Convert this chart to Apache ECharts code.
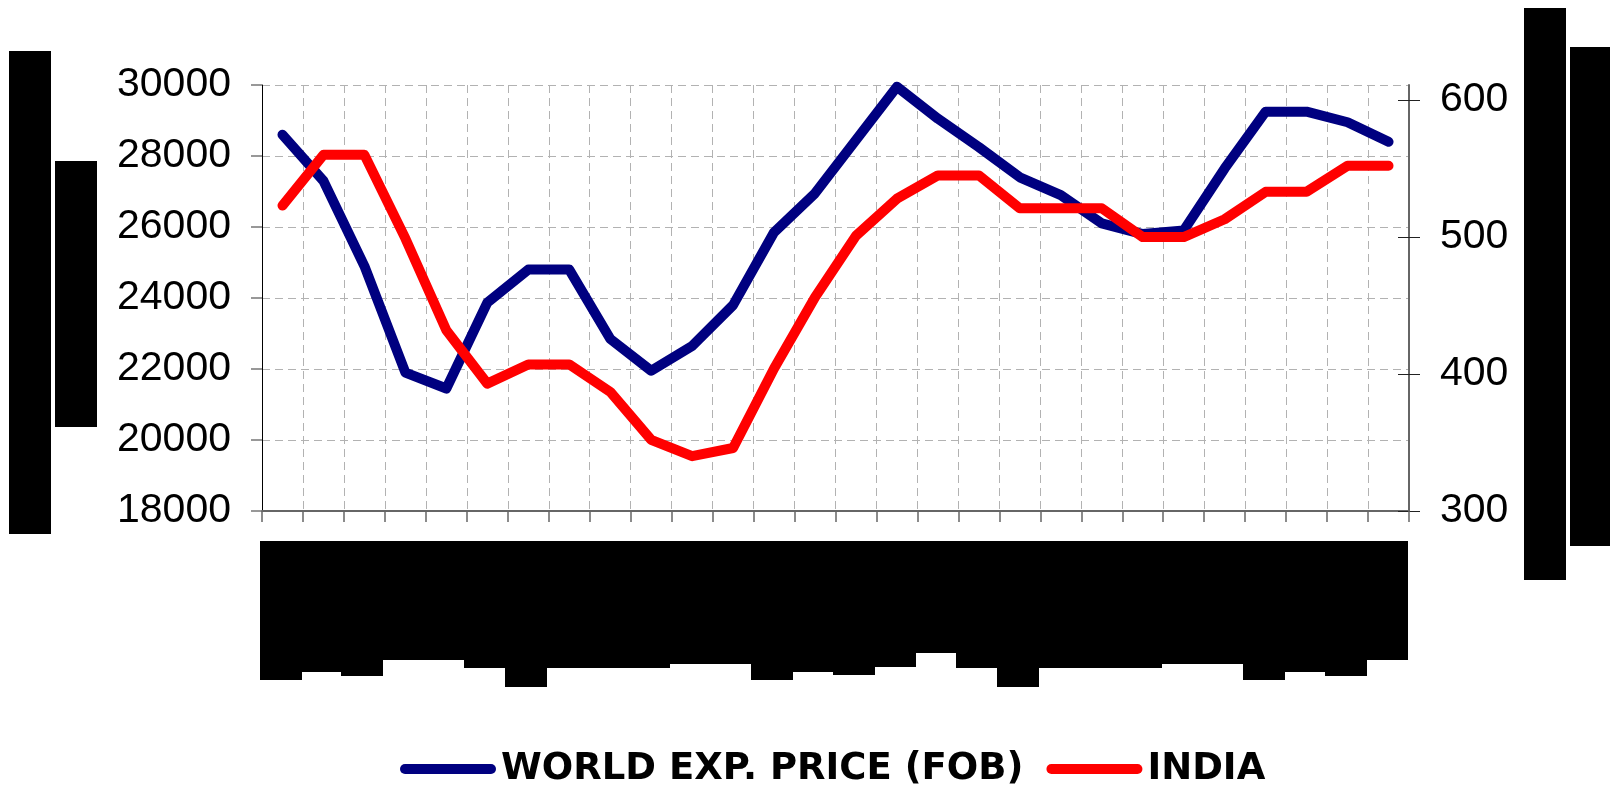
<!DOCTYPE html>
<html>
<head>
<meta charset="utf-8">
<script src="https://cdn.jsdelivr.net/npm/echarts@6/dist/echarts.min.js"></script>
<style>
  html, body { margin: 0; padding: 0; background: #ffffff; }
  #chart { width: 1610px; height: 786px; }
</style>
</head>
<body>
<div id="chart"></div>
<script>
// Monthly periods (28 points)
const periods = ['1','2','3','4','5','6','7','8','9','10','11','12','13','14',
                 '15','16','17','18','19','20','21','22','23','24','25','26','27','28'];

// World export price (FOB), left axis
const worldPrice = [28600, 27300, 24900, 21900, 21450, 23870, 24800, 24800, 22850, 21950,
                    22650, 23800, 25850, 26950, 28450, 29950, 29050, 28250, 27400, 26900,
                    26100, 25800, 25900, 27650, 29250, 29250, 28950, 28400];

// India, right axis
const indiaPrice = [523, 560, 560, 499, 432, 393, 407, 407, 387, 352,
                    340, 346, 404, 456, 501, 528, 545, 545, 521, 521,
                    521, 500, 500, 513, 533, 533, 552, 552];

// Axis tick labels
const leftTicks = [18000, 20000, 22000, 24000, 26000, 28000, 30000];
const rightTicks = [300, 400, 500, 600];

const seriesNames = ['WORLD EXP. PRICE (FOB)', 'INDIA'];

// Solid black panels standing in for the axis titles and period labels
const labelPanelBottoms = [680, 672, 676, 660, 660, 668, 687, 668, 668, 668, 664, 664, 680, 672,
                           675, 667, 653, 668, 687, 668, 668, 668, 664, 664, 680, 672, 676, 660];
const titlePanels = [
  { x: 9, y: 51, w: 42, h: 483 },
  { x: 55, y: 161, w: 42, h: 266 },
  { x: 1524, y: 8, w: 42, h: 572 },
  { x: 1570, y: 47, w: 40, h: 499 }
];

const pill = 'path://M5,0 L91,0 A5,5 0 0 1 91,10 L5,10 A5,5 0 0 1 5,0 Z';
const gridDash = { type: [8, 5], color: '#b2b2b2', width: 1 };
const numFont = { fontFamily: 'Liberation Sans, Arial, sans-serif', fontSize: 41, color: '#000' };
const plainNumber = function (v) { return String(v); };

const chart = echarts.init(document.getElementById('chart'), null, { renderer: 'canvas' });

chart.setOption({
  animation: false,
  backgroundColor: '#ffffff',
  grid: { left: 262, right: 201, top: 85, bottom: 275, containLabel: false },
  legend: {
    left: 400,
    top: 749,
    padding: 0,
    itemWidth: 96,
    itemHeight: 10,
    itemGap: 23,
    textStyle: {
      fontFamily: 'DejaVu Sans, sans-serif',
      fontWeight: 'bold',
      fontSize: 37,
      lineHeight: 40,
      color: '#000'
    },
    data: [
      { name: seriesNames[0], icon: pill, itemStyle: { color: '#000080' } },
      { name: seriesNames[1], icon: pill, itemStyle: { color: '#ff0000' } }
    ]
  },
  xAxis: {
    type: 'category',
    data: periods,
    boundaryGap: true,
    axisLine: { lineStyle: { color: '#666', width: 2 } },
    axisTick: { show: true, interval: 0, length: 11, lineStyle: { color: '#666', width: 1.5 } },
    axisLabel: { show: false },
    splitLine: { show: true, interval: 0, lineStyle: gridDash }
  },
  yAxis: [
    {
      type: 'value',
      position: 'left',
      min: leftTicks[0],
      max: leftTicks[leftTicks.length - 1],
      interval: 2000,
      axisLine: { show: true, lineStyle: { color: '#000', width: 1 } },
      axisTick: { show: true, length: 11, lineStyle: { color: '#777', width: 1.5 } },
      axisLabel: Object.assign({ margin: 31, formatter: plainNumber }, numFont),
      splitLine: { show: true, lineStyle: gridDash }
    },
    {
      type: 'value',
      position: 'right',
      min: 300,
      max: 611,
      axisLine: { show: true, lineStyle: { color: '#666', width: 2 } },
      axisTick: { show: true, length: 11, customValues: rightTicks, lineStyle: { color: '#222', width: 1 } },
      axisLabel: Object.assign({ margin: 31, customValues: rightTicks, formatter: plainNumber }, numFont),
      splitLine: { show: false }
    },
    {
      // inner half of the right axis cross ticks
      type: 'value',
      position: 'right',
      min: 300,
      max: 611,
      axisLine: { show: false },
      axisTick: { show: true, inside: true, length: 11, customValues: rightTicks, lineStyle: { color: '#222', width: 1 } },
      axisLabel: { show: false },
      splitLine: { show: false }
    }
  ],
  series: [
    {
      name: seriesNames[0],
      type: 'line',
      yAxisIndex: 0,
      data: worldPrice,
      symbol: 'none',
      lineStyle: { color: '#000080', width: 10, cap: 'round', join: 'round' },
      itemStyle: { color: '#000080' },
      z: 3
    },
    {
      name: seriesNames[1],
      type: 'line',
      yAxisIndex: 1,
      data: indiaPrice,
      symbol: 'none',
      lineStyle: { color: '#ff0000', width: 10, cap: 'round', join: 'round' },
      itemStyle: { color: '#ff0000' },
      z: 4
    }
  ]
});

// Black panels: one per period below the axis, plus the side titles
const step = chart.convertToPixel({ xAxisIndex: 0 }, 1) - chart.convertToPixel({ xAxisIndex: 0 }, 0);
const panels = [];
periods.forEach(function (p, i) {
  const cx = chart.convertToPixel({ xAxisIndex: 0 }, i);
  const left = cx - step * 0.56;
  const top = 541;
  panels.push({
    type: 'rect',
    shape: { x: Math.round(left), y: top, width: Math.ceil(step) + 1, height: labelPanelBottoms[i] - top },
    style: { fill: '#000' },
    silent: true
  });
});
titlePanels.forEach(function (b) {
  panels.push({
    type: 'rect',
    shape: { x: b.x, y: b.y, width: b.w, height: b.h },
    style: { fill: '#000' },
    silent: true
  });
});
chart.setOption({ graphic: panels });
</script>
</body>
</html>
